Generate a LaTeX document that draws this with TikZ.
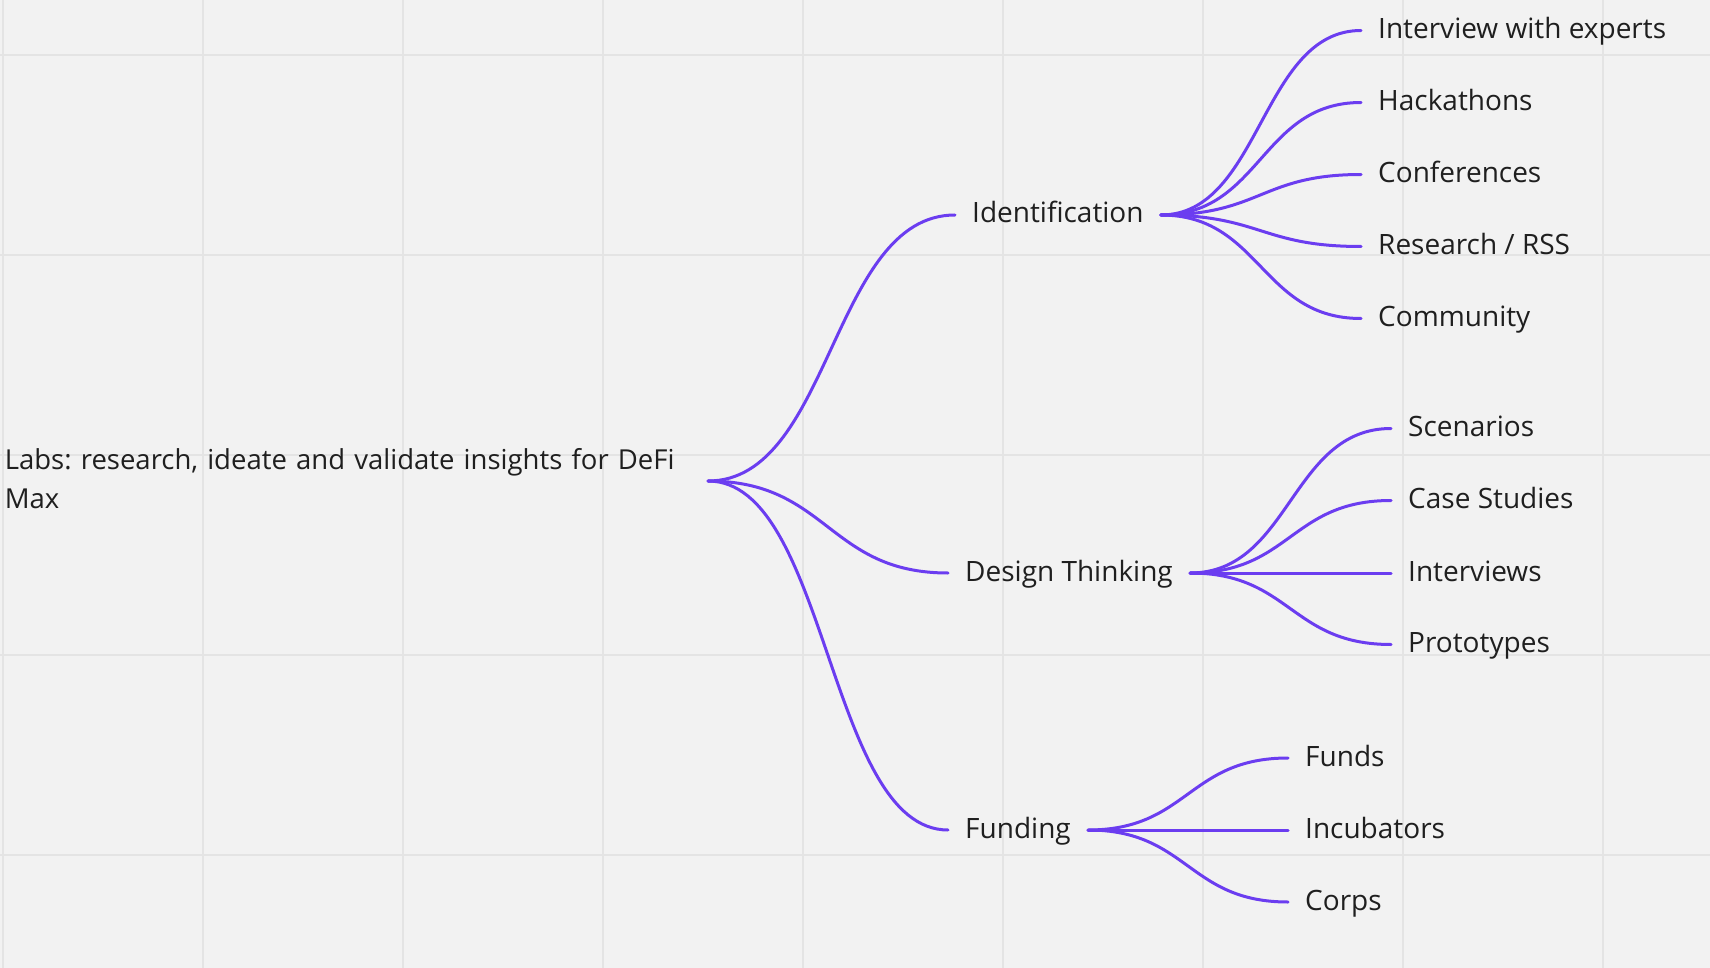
\documentclass[tikz,border=0pt]{standalone}
\usepackage{fontspec}
\setmainfont{Open Sans}
\usetikzlibrary{calc}
\frenchspacing
\definecolor{bg}{HTML}{F2F2F2}
\definecolor{gridc}{HTML}{E4E4E4}
\definecolor{branchc}{HTML}{6B3DF0}
\tikzset{
  lbl/.style={anchor=west, inner xsep=17pt, inner ysep=0pt, text height=21pt, text depth=5pt,
    font=\fontsize{28}{39}\selectfont\frenchspacing, text=black!88},
  branch/.style={draw=branchc, line width=3pt, line cap=round,
    to path={let \p1=(\tikztostart), \p2=(\tikztotarget) in
      .. controls ({(\x1+\x2)/2},\y1) and ({(\x1+\x2)/2},\y2) .. (\tikztotarget)}}
}
\begin{document}
\begin{tikzpicture}[x=1pt,y=-1pt]
\fill[bg] (0,0) rectangle (1710,968);
\useasboundingbox (0,0) rectangle (1710,968);
\foreach \gx in {3,203,...,1603} \draw[gridc, line width=2pt] (\gx,0) -- (\gx,968);
\foreach \gy in {55,255,...,855} \draw[gridc, line width=2pt] (0,\gy) -- (1710,\gy);

\node[lbl, anchor=east, inner xsep=0pt, align=left, text width=703pt, text depth=44pt,
  font=\fontsize{27.5}{39}\selectfont\frenchspacing] (root) at (708,481)
  {Labs: research, ideate and validate insights for DeFi\\Max};

\node[lbl] (ident) at (955,215) {Identification};
\node[lbl] (design) at (948,573) {Design Thinking};
\node[lbl] (fund) at (948,830) {Funding};

\node[lbl] (c1) at (1361,30.5) {Interview with experts};
\node[lbl] (c2) at (1361,102.5) {Hackathons};
\node[lbl] (c3) at (1361,174.5) {Conferences};
\node[lbl] (c4) at (1361,246.5) {Research / RSS};
\node[lbl] (c5) at (1361,318.5) {Community};

\node[lbl] (d1) at (1391,428.5) {Scenarios};
\node[lbl] (d2) at (1391,500.5) {Case Studies};
\node[lbl] (d3) at (1391,573) {Interviews};
\node[lbl] (d4) at (1391,644.5) {Prototypes};

\node[lbl] (f1) at (1288,758) {Funds};
\node[lbl] (f2) at (1288,830) {Incubators};
\node[lbl] (f3) at (1288,902) {Corps};

\foreach \t in {ident,design,fund} \draw[branch] (root.east) to (\t.west);
\foreach \t in {c1,c2,c3,c4,c5} \draw[branch] (ident.east) to (\t.west);
\foreach \t in {d1,d2,d3,d4} \draw[branch] (design.east) to (\t.west);
\foreach \t in {f1,f2,f3} \draw[branch] (fund.east) to (\t.west);
\end{tikzpicture}
\end{document}
